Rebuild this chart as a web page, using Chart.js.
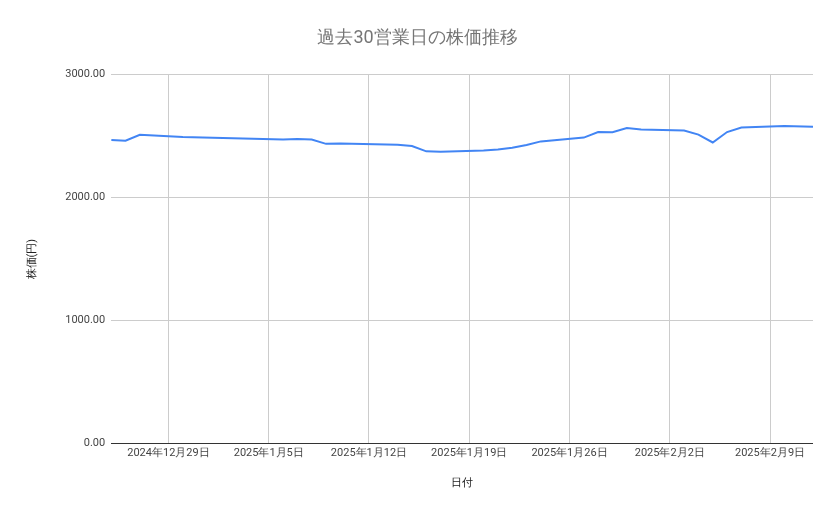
<!DOCTYPE html>
<html><head><meta charset="utf-8">
<script src="https://cdn.jsdelivr.net/npm/chart.js@4"></script>
<style>html,body{margin:0;padding:0;background:#fff}#w{width:839px;height:519px}</style>
</head><body><div id="w"><canvas id="c"></canvas></div>
<script>
const dates = ["2024-12-25","2024-12-26","2024-12-27","2024-12-30","2025-01-06","2025-01-07","2025-01-08","2025-01-09","2025-01-10","2025-01-14","2025-01-15","2025-01-16","2025-01-17","2025-01-20","2025-01-21","2025-01-22","2025-01-23","2025-01-24","2025-01-27","2025-01-28","2025-01-29","2025-01-30","2025-01-31","2025-02-03","2025-02-04","2025-02-05","2025-02-06","2025-02-07","2025-02-10","2025-02-12"];
const prices = [2468,2462,2510,2492,2473,2477,2472,2437,2440,2430,2420,2376,2372,2383,2392,2405,2428,2457,2488,2533,2531,2566,2553,2545,2512,2448,2533,2570,2583,2575];
const tickDates = ["2024-12-29","2025-01-05","2025-01-12","2025-01-19","2025-01-26","2025-02-02","2025-02-09"];
const yTicks = [0,1000,2000,3000];
const base = Date.UTC(2024,11,25);
const day = s => { const [y,m,d]=s.split('-').map(Number); return (Date.UTC(y,m-1,d)-base)/86400000; };
const fmt = v => { const d=new Date(base+v*86400000); return d.getUTCFullYear()+'年'+(d.getUTCMonth()+1)+'月'+d.getUTCDate()+'日'; };
Chart.defaults.font.family='Roboto';
new Chart(document.getElementById('c'),{
 type:'line',
 data:{datasets:[{data:dates.map((d,i)=>({x:day(d),y:prices[i]})),borderColor:'#4285f4',borderWidth:2,pointRadius:0,tension:0}]},
 options:{responsive:true,maintainAspectRatio:false,animation:false,
  layout:{padding:{left:22,right:26,top:10,bottom:25}},
  plugins:{legend:{display:false},tooltip:{enabled:false},
   title:{display:true,text:'過去30営業日の株価推移',color:'#757575',font:{size:18,weight:'normal'},padding:{top:18,bottom:25}}},
  scales:{
   x:{type:'linear',min:0,max:49,
    afterBuildTicks:a=>{a.ticks=tickDates.map(d=>({value:day(d)}));},
    ticks:{callback:v=>fmt(v),color:'#444',font:{size:11},maxRotation:0,autoSkip:false},
    grid:{color:'#cccccc',drawTicks:false},border:{display:false},
    title:{display:true,text:'日付',color:'#222',font:{size:11},padding:{top:14}}},
   y:{min:0,max:3000,
    afterBuildTicks:a=>{a.ticks=yTicks.map(v=>({value:v}));},
    ticks:{callback:v=>v.toFixed(2),color:'#444',font:{size:11},padding:6},
    grid:{color:c=>c.tick&&c.tick.value===0?'#333':'#cccccc',drawTicks:false},border:{display:false},
    title:{display:true,text:'株価(円)',color:'#222',font:{size:11},padding:{bottom:20}}}
  }}
});
</script></body></html>
